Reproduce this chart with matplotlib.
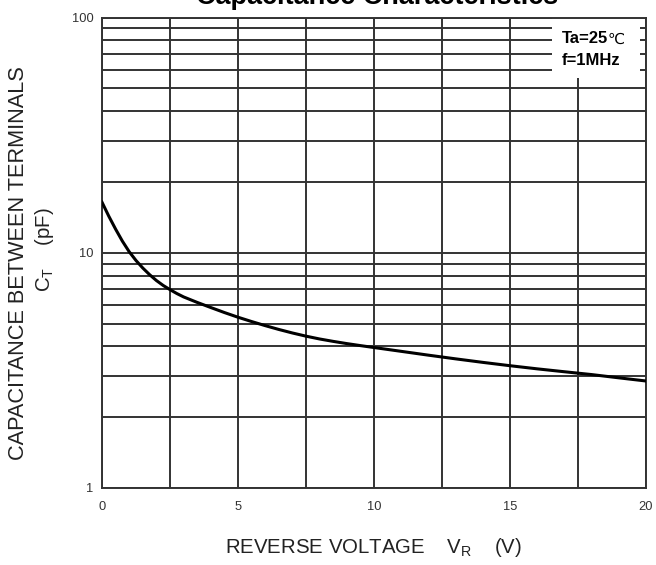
import numpy as np
import matplotlib
matplotlib.use('Agg')
from matplotlib import pyplot as plt
from matplotlib.patches import Rectangle

plt.rcParams['font.family'] = ['Liberation Sans', 'DejaVu Sans']

vr = [0, 0.25, 0.5, 0.75, 1, 1.25, 1.5, 1.75, 2, 2.25, 2.5, 2.75, 3, 3.5, 4,
      4.5, 5, 5.5, 6, 6.5, 7, 7.5, 8, 8.5, 9, 9.5, 10, 11, 12, 13, 14, 15, 16,
      17, 18, 19, 20]
ct = [16.4, 14.3, 12.6, 11.2, 10.1, 9.27, 8.61, 8.07, 7.62, 7.26, 6.97, 6.71,
      6.49, 6.15, 5.85, 5.57, 5.32, 5.1, 4.9, 4.72, 4.56, 4.42, 4.3, 4.2, 4.11,
      4.03, 3.955, 3.81, 3.67, 3.54, 3.42, 3.31, 3.21, 3.12, 3.035, 2.94, 2.85]

xticks = [0, 5, 10, 15, 20]
xgrid = [0, 2.5, 5, 7.5, 10, 12.5, 15, 17.5, 20]
yticks = [1, 10, 100]
ytick_labels = ['1', '10', '100']

fig = plt.figure(figsize=(6.56, 5.65), dpi=100)
ax = fig.add_axes([102/656, 1-488/565, 544/656, 470.5/565])

grid_col = '#333333'
ax.set_yscale('log')
ax.set_xlim(0, 20)
ax.set_ylim(1, 100)
ax.set_xticks(xticks)
ax.set_yticks(yticks)
ax.set_yticklabels(ytick_labels)
ax.set_xticks(xgrid, minor=True)
ax.yaxis.set_minor_formatter(matplotlib.ticker.NullFormatter())
ax.tick_params(which='both', length=0, labelsize=9.3, labelcolor='#333333')
ax.tick_params(axis='x', pad=9)
ax.tick_params(axis='y', pad=6)
ax.grid(True, which='both', color=grid_col, lw=1.4)
ax.set_axisbelow(True)
for s in ax.spines.values():
    s.set_color(grid_col)
    s.set_linewidth(1.4)

ax.plot(vr, ct, color='black', lw=2.2, zorder=3, solid_joinstyle='round')

# white box behind the conditions
ax.add_patch(Rectangle((0.827, 0.871), 0.162, 0.2, transform=ax.transAxes,
                       facecolor='white', edgecolor='none', zorder=1.5))
ax.text(0.8456, 0.945, 'Ta=25', transform=ax.transAxes, fontsize=12,
        fontweight='bold', va='baseline', zorder=4)
ax.text(0.929, 0.945, '℃', transform=ax.transAxes, fontsize=11,
        family=['DejaVu Sans'], va='baseline', zorder=4)
ax.text(0.8456, 0.899, 'f=1MHz', transform=ax.transAxes, fontsize=12,
        fontweight='bold', va='baseline', zorder=4)

fig.text(377/656, 1-4/565, 'Capacitance Characteristics', fontsize=19.5,
         fontweight='bold', ha='center', va='baseline')

fig.text(225/656, 1-552.7/565, r'REVERSE VOLTAGE    V$_\mathregular{R}$    (V)',
         fontsize=14.7, color='#222222', ha='left', va='baseline')
fig.text(19/656, 1-263/565, 'CAPACITANCE BETWEEN TERMINALS', fontsize=15.7,
         color='#222222', rotation=90, ha='center', va='center')
fig.text(45/656, 1-250/565, r'C$_\mathregular{T}$    (pF)', fontsize=14.7,
         color='#222222', rotation=90, ha='center', va='center')

fig.savefig('out.png', dpi=100)
